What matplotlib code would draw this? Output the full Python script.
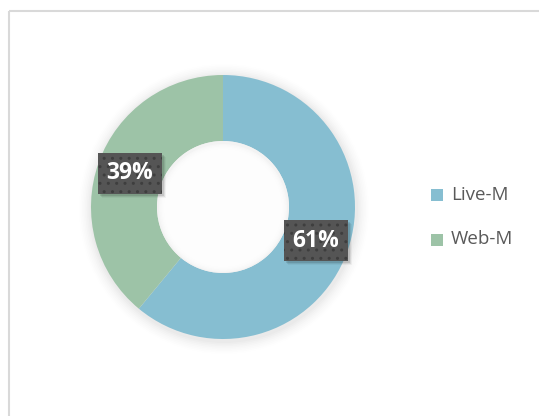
import matplotlib
matplotlib.use("Agg")
import matplotlib.pyplot as plt
from matplotlib.patches import Rectangle, Circle
import numpy as np

categories = ["Live-M", "Web-M"]
values = [61, 39]
labels = ["61%", "39%"]
colors = ["#86BED1", "#9DC3A7"]

plt.rcParams["hatch.color"] = "#3E3E3E"
plt.rcParams["hatch.linewidth"] = 1.0

W, H = 539, 416
fig = plt.figure(figsize=(W / 100, H / 100), dpi=100)
ax = fig.add_axes([0, 0, 1, 1])

cx, cy = 223, H - 207
R, ring = 132, 66

# soft shadow around donut
for i, a in enumerate(np.linspace(0.035, 0.008, 8)):
    ax.add_patch(Circle((cx + 1, cy - 2), R + 2 + i * 1.6, facecolor="#000000",
                        alpha=a * 0.5, edgecolor="none", zorder=0))

wedges, _ = ax.pie(values, startangle=90, counterclock=False, radius=R,
                   center=(cx, cy), colors=colors,
                   wedgeprops=dict(width=ring, edgecolor="none"), frame=True)
for w in wedges:
    w.set_zorder(2)

# inner hole shading
ax.add_patch(Circle((cx, cy), R - ring, facecolor="#F3F3F3", edgecolor="none", zorder=3))
for i in range(10):
    ax.add_patch(Circle((cx, cy - 1), R - ring - 2 - i * 1.2, facecolor="white",
                        alpha=0.35, edgecolor="none", zorder=3))

# data labels
mid_r = R - ring / 2
start = 90.0
total = sum(values)
bw, bh = 64, 41
for v, lab in zip(values, labels):
    span = v / total * 360
    mid = np.deg2rad(start - span / 2)
    start -= span
    x = cx + mid_r * np.cos(mid)
    y = cy + mid_r * np.sin(mid)
    for k, a in enumerate([0.10, 0.07, 0.04]):
        ax.add_patch(Rectangle((x - bw / 2 + 2 + k, y - bh / 2 - 2 - k), bw, bh,
                               facecolor="#000000", alpha=a, edgecolor="none", zorder=4))
    ax.add_patch(Rectangle((x - bw / 2, y - bh / 2), bw, bh,
                           facecolor="#555555", edgecolor="#3E3E3E", linewidth=0,
                           hatch="..", zorder=5))
    ax.text(x, y, lab, ha="center", va="center", color="white",
            fontsize=16.5, fontweight="bold", family=["Open Sans", "DejaVu Sans"], zorder=6)

# legend
ly = [H - 195, H - 239.5]
for cat, col, y in zip(categories, colors, ly):
    ax.add_patch(Rectangle((431, y - 6), 12, 12, facecolor=col, edgecolor="none"))
    ax.text(451, y, cat, ha="left", va="center", color="#595959",
            fontsize=13.5, family=["Open Sans", "DejaVu Sans"])

# chart border (top and left visible)
ax.plot([9, W], [H - 11, H - 11], color="#D9D9D9", lw=1.5, solid_capstyle="butt")
ax.plot([9, 9], [H - 11, 0], color="#D9D9D9", lw=1.5, solid_capstyle="butt")

ax.set_xlim(0, W)
ax.set_ylim(0, H)
ax.set_aspect("auto")
ax.axis("off")

fig.savefig("out.png", dpi=100)
